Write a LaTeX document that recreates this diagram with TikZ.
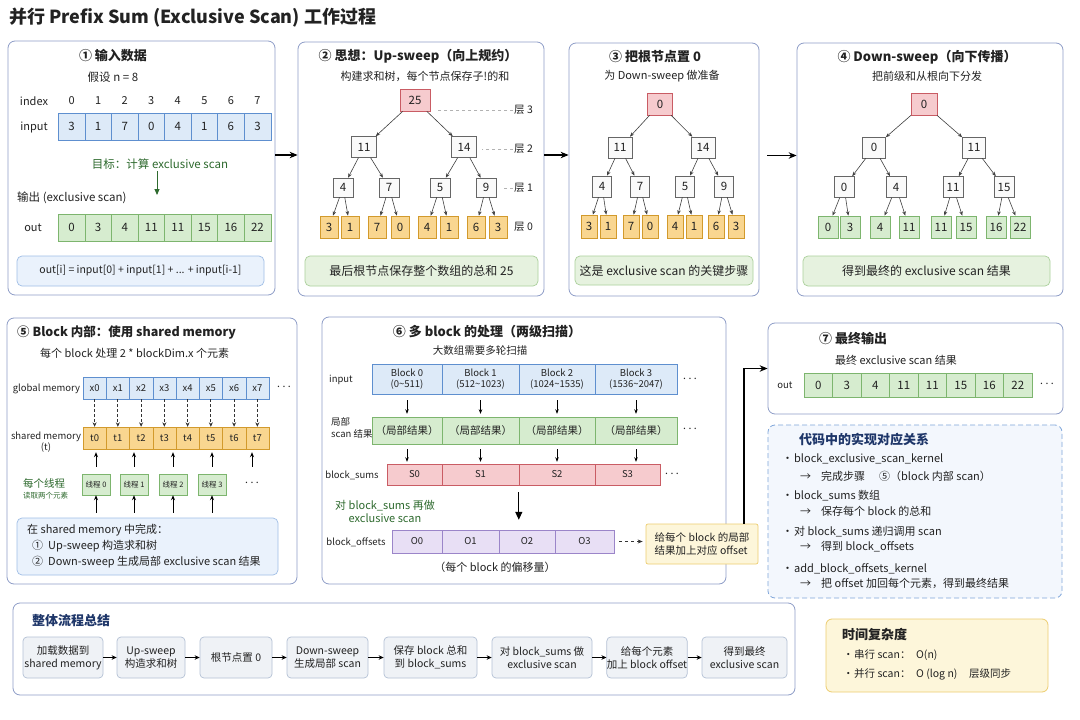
\documentclass[tikz,border=0pt]{standalone}
\usepackage{fontspec}
\setmainfont{Noto Sans CJK SC}
\usetikzlibrary{arrows.meta}

\definecolor{ink}{HTML}{222222}
\definecolor{panelline}{HTML}{8E9DC7}
\definecolor{bluefill}{HTML}{DDEAF8}
\definecolor{blueline}{HTML}{5E8FCF}
\definecolor{greenfill}{HTML}{D6ECCF}
\definecolor{greenline}{HTML}{7DB56E}
\definecolor{orangefill}{HTML}{F9D690}
\definecolor{orangeline}{HTML}{D29A2C}
\definecolor{pinkfill}{HTML}{F6CBCE}
\definecolor{pinkline}{HTML}{C95C64}
\definecolor{purplefill}{HTML}{E8DFF5}
\definecolor{purpleline}{HTML}{9B85C9}
\definecolor{notefill}{HTML}{E6F2DF}
\definecolor{noteline}{HTML}{ABD09B}
\definecolor{infofill}{HTML}{EAF2FC}
\definecolor{infoline}{HTML}{A0BEE6}
\definecolor{codefill}{HTML}{F3F7FD}
\definecolor{codeline}{HTML}{7FA6DA}
\definecolor{yellowfill}{HTML}{FDF6DA}
\definecolor{yellowline}{HTML}{EDCD70}
\definecolor{stepfill}{HTML}{EFF2F6}
\definecolor{stepline}{HTML}{B4C1D5}
\definecolor{goalgreen}{HTML}{2E6A2E}
\definecolor{navy}{HTML}{1E3669}

\newcommand\dotsrow{\raisebox{3pt}{.\kern2.5pt.\kern2.5pt.}}

\begin{document}
\begin{tikzpicture}[
  x=1pt, y=-1pt,
  every node/.style={inner sep=1pt, text=ink},
  ttl/.style={font=\fontsize{13}{15}\selectfont\bfseries},
  big/.style={font=\fontsize{12}{14}\selectfont},
  sub/.style={font=\fontsize{11.5}{14}\selectfont},
  lin/.style={font=\fontsize{11}{13}\selectfont},
  txt/.style={font=\fontsize{10.5}{13}\selectfont},
  sml/.style={font=\fontsize{9.5}{11.5}\selectfont},
  tiny/.style={font=\fontsize{7.5}{9}\selectfont},
  panel/.style={draw=panelline, line width=0.8pt, rounded corners=7pt, fill=white, inner sep=0pt},
  note/.style={rounded corners=5pt, line width=0.7pt, fill=notefill, draw=noteline, inner sep=0pt, big},
  cell/.style={draw, inner sep=0pt, minimum height=27pt, font=\fontsize{11.5}{13}\selectfont},
  incell/.style={cell, fill=bluefill, draw=blueline, minimum width=26.55pt},
  outcell/.style={cell, fill=greenfill, draw=greenline, minimum width=26.55pt},
  gmcell/.style={cell, sml, fill=bluefill, draw=blueline, minimum width=23.25pt, minimum height=22pt},
  smcell/.style={cell, sml, fill=orangefill, draw=orangeline, minimum width=23.25pt, minimum height=22pt},
  thread/.style={draw=greenline, fill=greenfill, tiny, minimum width=28pt, minimum height=21pt, inner sep=0pt},
  bkcell/.style={cell, sml, align=center, fill=bluefill, draw=blueline, minimum height=30pt},
  lccell/.style={cell, txt, fill=greenfill, draw=greenline},
  bscell/.style={cell, sml, fill=pinkfill, draw=pinkline, minimum height=21pt},
  bocell/.style={cell, sml, fill=purplefill, draw=purpleline, minimum height=23pt},
  tnode/.style={draw=black!60, fill=black!2, line width=0.6pt, inner sep=0pt, minimum width=24pt, minimum height=21pt, font=\fontsize{11.5}{13}\selectfont},
  troot/.style={tnode, fill=pinkfill, draw=pinkline, minimum width=28pt, minimum height=22pt},
  tleaf/.style={tnode, fill=orangefill, draw=orangeline, minimum width=18pt, minimum height=22pt},
  tleafg/.style={tnode, fill=greenfill, draw=greenline, minimum width=20pt, minimum height=22pt},
  tedge/.style={draw=black!75, line width=0.6pt, -{Stealth[length=4.5pt, width=3.5pt]}},
  lvl/.style={draw=black!30, line width=0.5pt, dashed, shorten >=5pt},
  flow/.style={draw=black, line width=1.1pt, -{Stealth[length=8pt, width=6.5pt]}},
  garrow/.style={draw=goalgreen, line width=0.9pt, -{Triangle[length=6pt, width=5pt]}},
  darrow/.style={draw=black!80, line width=0.8pt, dash pattern=on 3pt off 2pt, -{Stealth[length=4.5pt, width=4pt]}},
  uarrow/.style={draw=black, line width=0.8pt, -{Stealth[length=5pt, width=4pt]}},
  sarrow/.style={draw=black, line width=0.7pt, -{Stealth[length=4.5pt, width=3.5pt]}},
  bigarrow/.style={draw=black, line width=1.2pt, -{Triangle[length=8pt, width=7pt]}},
  dasharrow/.style={draw=black!80, line width=0.7pt, dashed, -{Stealth[length=5pt, width=4pt]}},
  farrow/.style={draw=black, line width=0.8pt, -{Stealth[length=5pt, width=4.5pt]}},
  stepbox/.style={draw=stepline, fill=stepfill, rounded corners=4pt, line width=0.7pt, align=center, txt, minimum height=41pt, inner sep=0pt}]

  \useasboundingbox (0,0) rectangle (1080,720);
  \fill[white] (0,0) rectangle (1080,720);

  \node[anchor=west, font=\fontsize{18}{21}\selectfont\bfseries] (title) at (8,18)
    {并行 Prefix Sum (Exclusive Scan) 工作过程};

  % ---- 1: input data --------------------------------------------------------
  \node[panel, minimum width=267pt, minimum height=254pt] (p1) at (141.5,168) {};
  \node[ttl] (p1title) at (113,56) {① 输入数据};
  \node[sub] (p1sub) at (113,77) {假设 n = 8};
  \node[lin] (idxlab) at (34,101) {index};
  \node[lin] (inlab) at (34,127) {input};
  \node[lin] (outlab) at (33,228) {out};
  \foreach \v [count=\i from 0] in {3,1,7,0,4,1,6,3} {
    \node[lin] (idx\i) at ({71.6+26.55*\i},101) {\i};
    \node[incell] (in\i) at ({71.6+26.55*\i},126.5) {\v};
  }
  \node[sub, text=goalgreen] (goal) at (160,164.5) {目标：计算 exclusive scan};
  \coordinate (goaltip) at (157,195);
  \draw[garrow] (goal.south -| goaltip) -- (goaltip);
  \node[sub, anchor=west] (outhead) at (16,198) {输出 (exclusive scan)};
  \foreach \v [count=\i from 0] in {0,3,4,11,11,15,16,22}
    \node[outcell] (out\i) at ({71.6+26.55*\i},227.5) {\v};
  \node[note, txt, fill=infofill, draw=infoline, minimum width=247pt, minimum height=30pt] (formula)
    at (140.5,271) {out[i] = input[0] + input[1] + ... + input[i-1]};

  % ---- 2: up-sweep ------------------------------------------------------------
  \node[panel, minimum width=246pt, minimum height=254pt] (p2) at (421,169) {};
  \node[ttl] (p2title) at (418,56) {② 思想：Up-sweep（向上规约）};
  \node[lin] (p2sub) at (425,76) {构建求和树，每个节点保存子!的和};
  \node[troot, minimum width=30pt] (a3) at (415,100) {25};
  \foreach \v/\x [count=\i from 0] in {11/364,14/464}
    \node[tnode, minimum width=25pt] (a2\i) at (\x,147) {\v};
  \foreach \v/\x [count=\i from 0] in {4/343,7/389,5/440,9/486}
    \node[tnode, minimum width=20pt, minimum height=19pt] (a1\i) at (\x,187.5) {\v};
  \foreach \v/\x [count=\i from 0] in {3/329,1/350,7/377,0/400,4/427,1/449,6/476,3/498}
    \node[tleaf] (a0\i) at (\x,227) {\v};
  \foreach \i in {0,1} \draw[tedge] (a3) -- (a2\i);
  \foreach \i in {0,...,3} {\pgfmathtruncatemacro\p{\i/2} \draw[tedge] (a2\p) -- (a1\i);}
  \foreach \i in {0,...,7} {\pgfmathtruncatemacro\p{\i/2} \draw[tedge] (a1\p) -- (a0\i);}
  \foreach \l/\y in {3/110,2/149,1/188,0/227}
    \node[txt, anchor=west] (alab\l) at (513,\y) {层 \l};
  \draw[lvl] (alab3.west) -- (alab3.west -| a3.east);
  \draw[lvl] (alab2.west) -- (alab2.west -| a21.east);
  \draw[lvl] (alab1.west) -- (alab1.west -| a13.east);
  \node[note, minimum width=233pt, minimum height=30pt] (p2note) at (421.5,271) {最后根节点保存整个数组的总和 25};

  % ---- 3: clear the root ----------------------------------------------------------
  \node[panel, minimum width=190pt, minimum height=253pt] (p3) at (664,169.5) {};
  \node[ttl] (p3title) at (655,57) {③ 把根节点置 0};
  \node[lin] (p3sub) at (662,76) {为 Down-sweep 做准备};
  \node[troot, minimum width=25pt] (b3) at (660,104) {0};
  \foreach \v/\x [count=\i from 0] in {11/620,14/703}
    \node[tnode] (b2\i) at (\x,147.5) {\v};
  \foreach \v/\x [count=\i from 0] in {4/602,7/640,5/685,9/724}
    \node[tnode, minimum width=19pt] (b1\i) at (\x,186.5) {\v};
  \foreach \v/\x [count=\i from 0] in {3/589,1/608,7/631,0/650,4/675,1/694,6/716,3/736}
    \node[tleaf, minimum width=16pt, minimum height=23pt] (b0\i) at (\x,226.5) {\v};
  \foreach \i in {0,1} \draw[tedge] (b3) -- (b2\i);
  \foreach \i in {0,...,3} {\pgfmathtruncatemacro\p{\i/2} \draw[tedge] (b2\p) -- (b1\i);}
  \foreach \i in {0,...,7} {\pgfmathtruncatemacro\p{\i/2} \draw[tedge] (b1\p) -- (b0\i);}
  \node[note, minimum width=178pt, minimum height=29pt] (p3note) at (664,270.5) {这是 exclusive scan 的关键步骤};

  % ---- 4: down-sweep ----------------------------------------------------------
  \node[panel, minimum width=266pt, minimum height=253pt] (p4) at (930,169.5) {};
  \node[ttl] (p4title) at (927,57) {④ Down-sweep（向下传播）};
  \node[lin] (p4sub) at (927,76) {把前级和从根向下分发};
  \node[troot, minimum width=26pt] (c3) at (924,104) {0};
  \foreach \v/\x [count=\i from 0] in {0/874,11/974}
    \node[tnode, minimum width=23pt] (c2\i) at (\x,147.5) {\v};
  \foreach \v/\x [count=\i from 0] in {0/844,4/896,11/953,15/1004}
    \node[tnode, minimum width=20pt] (c1\i) at (\x,187) {\v};
  \foreach \v/\x [count=\i from 0] in {0/828,3/850,4/880,11/909,11/941,15/966,16/996,22/1020}
    \node[tleafg] (c0\i) at (\x,227) {\v};
  \foreach \i in {0,1} \draw[tedge] (c3) -- (c2\i);
  \foreach \i in {0,...,3} {\pgfmathtruncatemacro\p{\i/2} \draw[tedge] (c2\p) -- (c1\i);}
  \foreach \i in {0,...,7} {\pgfmathtruncatemacro\p{\i/2} \draw[tedge] (c1\p) -- (c0\i);}
  \node[note, minimum width=247pt, minimum height=30pt] (p4note) at (926.5,271) {得到最终的 exclusive scan 结果};

  % ---- arrows between the top panels --------------------------------------------
  \draw[flow] ([yshift=13pt]p1.east) -- ([yshift=13pt]p1.east -| p2.west);
  \draw[flow] ([yshift=14pt]p2.east) -- ([yshift=14pt]p2.east -| p3.west);
  \draw[flow, shorten <=8pt] ([yshift=14pt]p3.east) -- ([yshift=14pt]p3.east -| p4.west);

  % ---- 5: inside one block ------------------------------------------------------
  \node[panel, minimum width=290pt, minimum height=266pt] (p5) at (152,451) {};
  \node[ttl, font=\fontsize{12.5}{15}\selectfont\bfseries, anchor=west] (p5title) at (16,332) {⑤ Block 内部：使用 shared memory};
  \node[lin, anchor=west] (p5sub) at (39,353) {每个 block 处理 2 * blockDim.x 个元素};
  \node[sml] (glab) at (46.5,389) {global memory};
  \node[sml, align=center] (slab) at (46,442) {shared memory\\(t)};
  \foreach \i in {0,...,7} {
    \node[gmcell] (g\i) at ({94.6+23.25*\i},388) {x\i};
    \node[smcell] (s\i) at ({94.6+23.25*\i},438) {t\i};
    \draw[darrow] (g\i) -- (s\i);
  }
  \node[txt] (gdots) at (284,388) {\dotsrow};
  \node[txt, text=goalgreen, anchor=west] (thlab) at (22,483.5) {每个线程};
  \node[tiny, text=goalgreen, anchor=west] (thlab2) at (22,496) {读取两个元素};
  \node[note, txt, fill=infofill, draw=infoline, minimum width=261pt, minimum height=57pt] (info5) at (147.5,546.5) {};
  \foreach \x [count=\i from 0] in {96,134,173,212} {
    \node[thread] (th\i) at (\x,484.5) {线程 \i};
    \draw[uarrow, shorten >=3pt] ([yshift=7pt]th\i.north) -- (th\i.north |- s0.south);
    \draw[uarrow, shorten <=5pt] (th\i.south |- info5.north) -- (th\i.south);
  }
  \node[txt, minimum height=21pt] (thdots) at (252,484.5) {\dotsrow};
  \draw[uarrow, shorten >=3pt] ([yshift=7pt]thdots.north) -- (thdots.north |- s0.south);
  \node[lin, anchor=west] (info5a) at (26,530) {在 shared memory 中完成：};
  \node[lin, anchor=west] (info5b) at (31,546) {①\hspace{5pt}Up-sweep 构造求和树};
  \node[lin, anchor=west] (info5c) at (31,562) {②\hspace{5pt}Down-sweep 生成局部 exclusive scan 结果};

  % ---- 6: many blocks -------------------------------------------------------------
  \node[panel, minimum width=404pt, minimum height=267pt] (p6) at (524,450.5) {};
  \node[ttl] (p6title) at (487,332) {⑥ 多 block 的处理（两级扫描）};
  \node[txt] (p6sub) at (480,351) {大数组需要多轮扫描};
  \node[sml] (binlab) at (341,380) {input};
  \node[sml, align=left, anchor=west] (loclab) at (330,428) {局部\\scan 结果};
  \node[sml] (bslab) at (352,475) {block\_sums};
  \node[sml] (bolab) at (356,542) {block\_offsets};
  \foreach \x/\w/\r [count=\i from 0] in {407/70/0\textasciitilde511, 480.5/77/512\textasciitilde1023,
      557/76/1024\textasciitilde1535, 636/82/1536\textasciitilde2047} {
    \node[bkcell, minimum width=\w pt] (bin\i) at (\x,379) {Block \i\\(\r)};
    \node[lccell, minimum width=\w pt] (loc\i) at (\x,430.5) {（局部结果）};
    \draw[sarrow, shorten <=6pt, shorten >=3pt] (bin\i) -- (loc\i);
  }
  \foreach \x/\w [count=\i from 0] in {414.5/55, 480.5/77, 557/76, 627.5/65}
    \node[bscell, minimum width=\w pt] (bs\i) at (\x,474.5) {S\i};
  \foreach \i in {0,...,3}
    \draw[sarrow, shorten <=5pt, shorten >=2pt] (loc\i.south) -- (loc\i.south |- bs0.north);
  \foreach \x/\w [count=\i from 0] in {417/50, 470.5/57, 527/56, 584.5/59}
    \node[bocell, minimum width=\w pt] (bo\i) at (\x,541.5) {O\i};
  \node[txt] (bindots) at (690,380) {\dotsrow};
  \node[txt] (locdots) at (690,430) {\dotsrow};
  \node[txt] (bsdots) at (672,475) {\dotsrow};
  \draw[bigarrow, shorten <=7pt, shorten >=10pt] (bs2.south west) -- (bs2.south west |- bo0.north);
  \node[lin, text=goalgreen, align=center] (rescan) at (385,511) {对 block\_sums 再做\\exclusive scan};
  \node[lin] (bocap) at (495,567) {（每个 block 的偏移量）};
  \node[note, txt, fill=yellowfill, draw=yellowline, rounded corners=2pt, align=left,
        minimum width=112pt, minimum height=40pt] (offnote) at (702,544)
    {给每个 block 的局部\\结果加上对应 offset};
  \draw[dasharrow, shorten <=5pt, shorten >=3pt] (bo3.east) -- (bo3.east -| offnote.west);

  % ---- 7: final output ------------------------------------------------------------
  \node[panel, minimum width=295pt, minimum height=91pt] (p7) at (915.5,368.5) {};
  \node[ttl, anchor=west] (p7title) at (818,338) {⑦ 最终输出};
  \node[lin] (p7sub) at (896,360) {最终 exclusive scan 结果};
  \node[sml] (p7lab) at (785,385) {out};
  \foreach \v [count=\i from 0] in {0,3,4,11,11,15,16,22}
    \node[outcell, minimum width=28.5pt, minimum height=24pt] (fin\i) at ({818.25+28.5*\i},385) {\v};
  \node[txt] (findots) at (1047,385) {\dotsrow};
  \draw[flow] ([xshift=42pt]offnote.north) |- (p7.west);

  % ---- code mapping -----------------------------------------------------------------
  \node[draw=codeline, dash pattern=on 5pt off 3pt, rounded corners=7pt, fill=codefill, line width=0.8pt,
        minimum width=294pt, minimum height=173pt] (code) at (915,511.5) {};
  \node[ttl, text=navy, anchor=west] (codetitle) at (798,440) {代码中的实现对应关系};
  \node[lin, anchor=west] (code1) at (781,459) {\makebox[12pt][l]{•}block\_exclusive\_scan\_kernel};
  \node[lin, anchor=west] (code1a) at (799,476) {\makebox[21pt][l]{→}完成步骤\hspace{14pt}⑤（block 内部 scan）};
  \node[lin, anchor=west] (code2) at (781,496) {\makebox[12pt][l]{•}block\_sums 数组};
  \node[lin, anchor=west] (code2a) at (799,511) {\makebox[21pt][l]{→}保存每个 block 的总和};
  \node[lin, anchor=west] (code3) at (781,532) {\makebox[12pt][l]{•}对 block\_sums 递归调用 scan};
  \node[lin, anchor=west] (code3a) at (799,547) {\makebox[21pt][l]{→}得到 block\_offsets};
  \node[lin, anchor=west] (code4) at (781,569) {\makebox[12pt][l]{•}add\_block\_offsets\_kernel};
  \node[lin, anchor=west] (code4a) at (799,583) {\makebox[21pt][l]{→}把 offset 加回每个元素，得到最终结果};

  % ---- overall flow ---------------------------------------------------------------
  \node[panel, minimum width=782pt, minimum height=92pt] (p8) at (404,649) {};
  \node[ttl, text=navy, anchor=west] (p8title) at (31,621) {整体流程总结};
  \node[stepbox, minimum width=80pt]  (st1) at (63,657.5)    {加载数据到\\shared memory};
  \node[stepbox, minimum width=68pt]  (st2) at (151,657.5)   {Up-sweep\\构造求和树};
  \node[stepbox, minimum width=72pt]  (st3) at (236,657.5)   {根节点置 0};
  \node[stepbox, minimum width=81pt]  (st4) at (327.5,657.5) {Down-sweep\\生成局部 scan};
  \node[stepbox, minimum width=93pt]  (st5) at (430.5,657.5) {保存 block 总和\\到 block\_sums};
  \node[stepbox, minimum width=100pt] (st6) at (542,657.5)   {对 block\_sums 做\\exclusive scan};
  \node[stepbox, minimum width=80pt]  (st7) at (647,657.5)   {给每个元素\\加上 block offset};
  \node[stepbox, minimum width=85pt]  (st8) at (744.5,657.5) {得到最终\\exclusive scan};
  \foreach \i [evaluate=\i as \j using int(\i+1)] in {1,...,7}
    \draw[farrow] (st\i) -- (st\j);

  % ---- complexity -------------------------------------------------------------------
  \node[draw=yellowline, fill=yellowfill, rounded corners=6pt, line width=0.8pt,
        minimum width=222pt, minimum height=73pt] (cplx) at (937,655.5) {};
  \node[ttl, anchor=west] (cplxtitle) at (841,634) {时间复杂度};
  \node[txt, anchor=west] (cplx1) at (842,655) {\makebox[11pt][l]{•}\makebox[62pt][l]{串行 scan：}O(n)};
  \node[txt, anchor=west] (cplx2) at (842,674)
    {\makebox[11pt][l]{•}\makebox[62pt][l]{并行 scan：}\makebox[53pt][l]{O (log n)}层级同步};
\end{tikzpicture}
\end{document}
